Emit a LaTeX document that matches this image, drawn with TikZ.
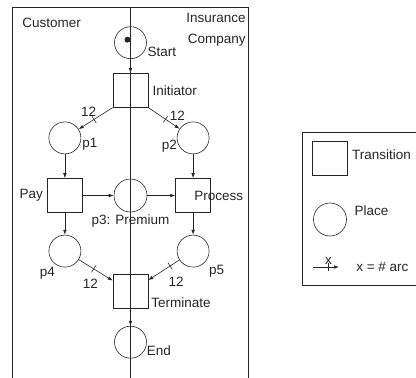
\documentclass[tikz,border=0pt]{standalone}
\usepackage{fontspec}
\setmainfont{Liberation Sans}
\usetikzlibrary{positioning}
\usetikzlibrary{arrows.meta}
\usetikzlibrary{decorations.markings}

\begin{document}
\begin{tikzpicture}[x=1pt, y=-1pt, line width=0.6pt, color=black!85,
      every node/.style={font=\fontsize{13.5}{16}\selectfont, inner sep=1pt},
      every label/.style={inner sep=1pt},
      place/.style={shape=circle, draw, minimum size=32pt, inner sep=0pt},
      trans/.style={shape=rectangle, draw, minimum width=35pt, minimum height=34pt, inner sep=0pt},
      token/.style={shape=circle, fill, minimum size=6pt, inner sep=0pt},
      arc/.style={-{Latex[length=5pt,width=3.6pt]}},
      weight/.style={postaction={decorate}, decoration={markings,
          mark=at position #1 with {\draw[-] (0,-4pt) -- (0,4pt);}}}]
  \useasboundingbox (0,0) rectangle (416,378);

  % swimlanes
  \draw (12.7,378) |- (248.7,7) -- (248.7,378);
  \draw (130.5,7) -- (130.5,378);
  \node[anchor=west] (cust) at (21,22.5) {Customer};
  \node[anchor=north east, align=right] (ins) at (247,11.5) {Insurance\\[5pt]Company};

  % places and transitions
  \node[place, label={[anchor=west, label distance=2pt]-30:Start}] (start) at (130.5,42.7) {};
  \node[token] (tok) at ([xshift=-3pt, yshift=3pt]start.center) {};
  \node[trans, below=14pt of start, label={[label distance=3pt]right:Initiator}] (init) {};
  \node[place, minimum size=33pt, label={[label distance=1pt]below:{p3: Premium}}] (p3) at (130.5,195.5) {};
  \node[trans, left=31pt of p3, label={[label distance=3pt]left:Pay}] (pay) {};
  \node[trans, right=28pt of p3] (proc) {};
  \node[anchor=west] (proclbl) at (proc.center) {Process};
  \node[place, above=24pt of pay, label={[anchor=west, label distance=1pt]-20:p1}] (p1) {};
  \node[place, above=24pt of proc, label={[anchor=east, label distance=1pt]-150:p2}] (p2) {};
  \node[place, below=22pt of pay, label={[anchor=north east, label distance=1pt]-120:p4}] (p4) {};
  \node[place, below=22pt of proc, label={[anchor=north west, label distance=3pt]-40:p5}] (p5) {};
  \node[trans, below=62pt of p3, label={[anchor=west, label distance=2pt]-30:Terminate}] (term) {};
  \node[place, below=17pt of term, label={[anchor=west, label distance=1pt]-30:End}] (end) {};

  % arcs
  \draw[arc] (start) -- (init);
  \draw[arc, weight=0.55] (init.south west) -- (p1) node[pos=0.45, anchor=south east] {12};
  \draw[arc, weight=0.55] (init.south east) -- (p2) node[pos=0.65, anchor=south west] {12};
  \draw[arc] (p1) -- (pay);
  \draw[arc] (p2) -- (proc);
  \draw[arc] (pay) -- (p3);
  \draw[arc] (p3) -- (proc);
  \draw[arc] (pay) -- (p4);
  \draw[arc] (proc) -- (p5);
  \draw[arc, weight=0.44] (p4) -- (term) node[pos=0.4, below=10pt, xshift=-2pt] {12};
  \draw[arc, weight=0.3] (p5) -- (term) node[pos=0.3, below=10pt, xshift=6pt] {12};
  \draw[arc] (term) -- (end);

  % legend, open to the right
  \draw (416,132) -| (302,285) -- (416,285);
  \node[trans, label={[anchor=west, label distance=3pt]10:Transition}] (ltrans) at (330,158.5) {};
  \node[place, minimum size=33pt, label={[anchor=west, label distance=8pt]20:Place}] (lplace) at (330,219.5) {};
  \coordinate (lfrom) at (313,267);
  \coordinate (lto) at (339,267);
  \draw[arc, weight=0.6] (lfrom) -- (lto) node[pos=0.6, above=1pt] {x};
  \node[right=16pt of lto] (lkey) {x = \# arc};
\end{tikzpicture}
\end{document}
